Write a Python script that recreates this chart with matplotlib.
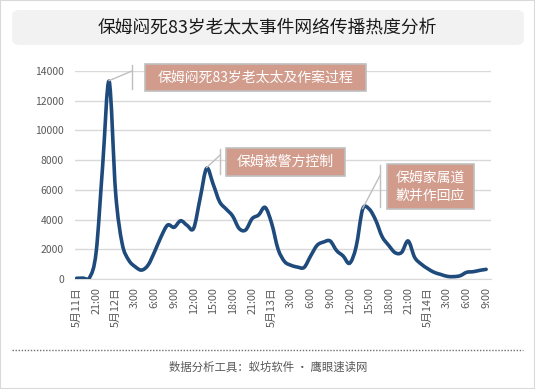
import numpy as np
import matplotlib
matplotlib.use('Agg')
import matplotlib.pyplot as plt
from matplotlib.path import Path
from matplotlib.patches import PathPatch, FancyBboxPatch, Rectangle

plt.rcParams['font.family'] = ['Noto Sans CJK SC', 'DejaVu Sans']

title = '保姆闷死83岁老太太事件网络传播热度分析'
footer = '数据分析工具：蚁坊软件 · 鹰眼速读网'

# hourly heat, 5月11日 18:00 -> 5月14日 9:00
heat = [50, 60, 100, 1800, 7600, 13300, 5800, 2400, 1280, 830,
        600, 940, 1840, 2850, 3630, 3480, 3920, 3610, 3410, 5430,
        7450, 6390, 5200, 4710, 4240, 3400, 3300, 4060, 4310, 4820,
        3750, 2000, 1170, 920, 800, 780, 1550, 2270, 2490, 2560,
        1910, 1550, 1060, 2170, 4690, 4710, 3970, 2850, 2270, 1770,
        1790, 2560, 1460, 1010, 700, 450, 310, 180, 160, 220,
        450, 490, 580, 650]
tick_labels = ['5月11日', '21:00', '5月12日', '3:00', '6:00', '9:00', '12:00', '15:00',
               '18:00', '21:00', '5月13日', '3:00', '6:00', '9:00', '12:00', '15:00',
               '18:00', '21:00', '5月14日', '3:00', '6:00', '9:00']
events = ['保姆闷死83岁老太太及作案过程', '保姆被警方控制', '保姆家属道\n歉并作回应']
event_idx = [5, 20, 44]

W, H = 535, 389
fig = plt.figure(figsize=(W / 100, H / 100), dpi=100)
fig.patches.append(Rectangle((0, 0), 1, 1, transform=fig.transFigure, fill=False,
                             edgecolor='#d9d9d9', linewidth=1.5))

# title box
fig.patches.append(FancyBboxPatch((12 / W, 1 - 45 / H), 512 / W, 35 / H,
                                  boxstyle='round,pad=0,rounding_size=0.015',
                                  transform=fig.transFigure, facecolor='#f2f2f2',
                                  edgecolor='none'))
fig.text(0.5, 1 - 27 / H, title, ha='center', va='center', fontsize=12.8, color='#1a1a1a')

ax = fig.add_axes([75 / W, 1 - 279 / H, 416 / W, 208 / H])
x = np.arange(len(heat))
y = np.array(heat, dtype=float)

# smooth line through the points (bezier, like excel "smoothed line")
verts = [(x[0], y[0])]
codes = [Path.MOVETO]
for i in range(len(x) - 1):
    p0 = np.array([x[max(i - 1, 0)], y[max(i - 1, 0)]])
    p1 = np.array([x[i], y[i]])
    p2 = np.array([x[i + 1], y[i + 1]])
    p3 = np.array([x[min(i + 2, len(x) - 1)], y[min(i + 2, len(x) - 1)]])
    c1 = p1 + (p2 - p0) / 6
    c2 = p2 - (p3 - p1) / 6
    verts += [tuple(c1), tuple(c2), tuple(p2)]
    codes += [Path.CURVE4] * 3
ax.add_patch(PathPatch(Path(verts, codes), facecolor='none', edgecolor='#1f4a7c',
                       linewidth=2.6, capstyle='round', joinstyle='round', zorder=3))

ax.set_xlim(-0.25, 63.75)
ax.set_ylim(0, 14000)
ax.set_yticks(range(0, 14001, 2000))
ax.yaxis.grid(True, color='#d9d9d9', linewidth=1)
ax.set_axisbelow(True)
for s in ['top', 'right', 'left']:
    ax.spines[s].set_visible(False)
ax.spines['bottom'].set_color('#d9d9d9')
ax.tick_params(axis='y', length=0, labelsize=7.5, labelcolor='#595959', pad=8)
ax.set_xticks(np.arange(0, 64, 3))
ax.set_xticklabels(tick_labels, rotation=90, fontsize=7.8, color='#595959')
ax.tick_params(axis='x', length=0, pad=6)

# event callouts: (box x0, box y0 top, box x1, box y1 bottom, elbow x) in pixels
boxes = [(145, 64, 366, 91, 132), (226, 148, 345, 176, 220), (387, 164, 474, 209, 380)]
for (bx0, by0, bx1, by1, lx), txt, idx in zip(boxes, events, event_idx):
    ex, ey = ax.transData.transform((idx, heat[idx]))
    ly_top, ly_bot = H - by0 - 1, H - by1 + 2
    ly_mid = ly_top - (ly_top - ly_bot) * 0.25
    fig.add_artist(plt.Line2D([ex / W, lx / W], [ey / H + 0.002, ly_mid / H],
                              transform=fig.transFigure, color='#bfbfbf', linewidth=1))
    fig.add_artist(plt.Line2D([lx / W, lx / W], [ly_top / H, ly_bot / H],
                              transform=fig.transFigure, color='#bfbfbf', linewidth=1))
    fig.patches.append(Rectangle((bx0 / W, 1 - by1 / H), (bx1 - bx0) / W, (by1 - by0) / H,
                                 transform=fig.transFigure, facecolor='#d29c8d',
                                 edgecolor='#bfbfbf', linewidth=1.2))
    fig.text((bx0 + bx1) / 2 / W, 1 - (by0 + by1) / 2 / H, txt, ha='center', va='center',
             fontsize=10, color='white', linespacing=1.4)

# footer
fig.add_artist(plt.Line2D([12 / W, 523 / W], [1 - 350 / H, 1 - 350 / H], transform=fig.transFigure,
                          color='#707070', linewidth=1, linestyle=(0, (1, 1.2))))
fig.text(268 / W, 1 - 367 / H, footer, ha='center', va='center', fontsize=8.2, color='#595959')

fig.savefig('out.png', dpi=100)
